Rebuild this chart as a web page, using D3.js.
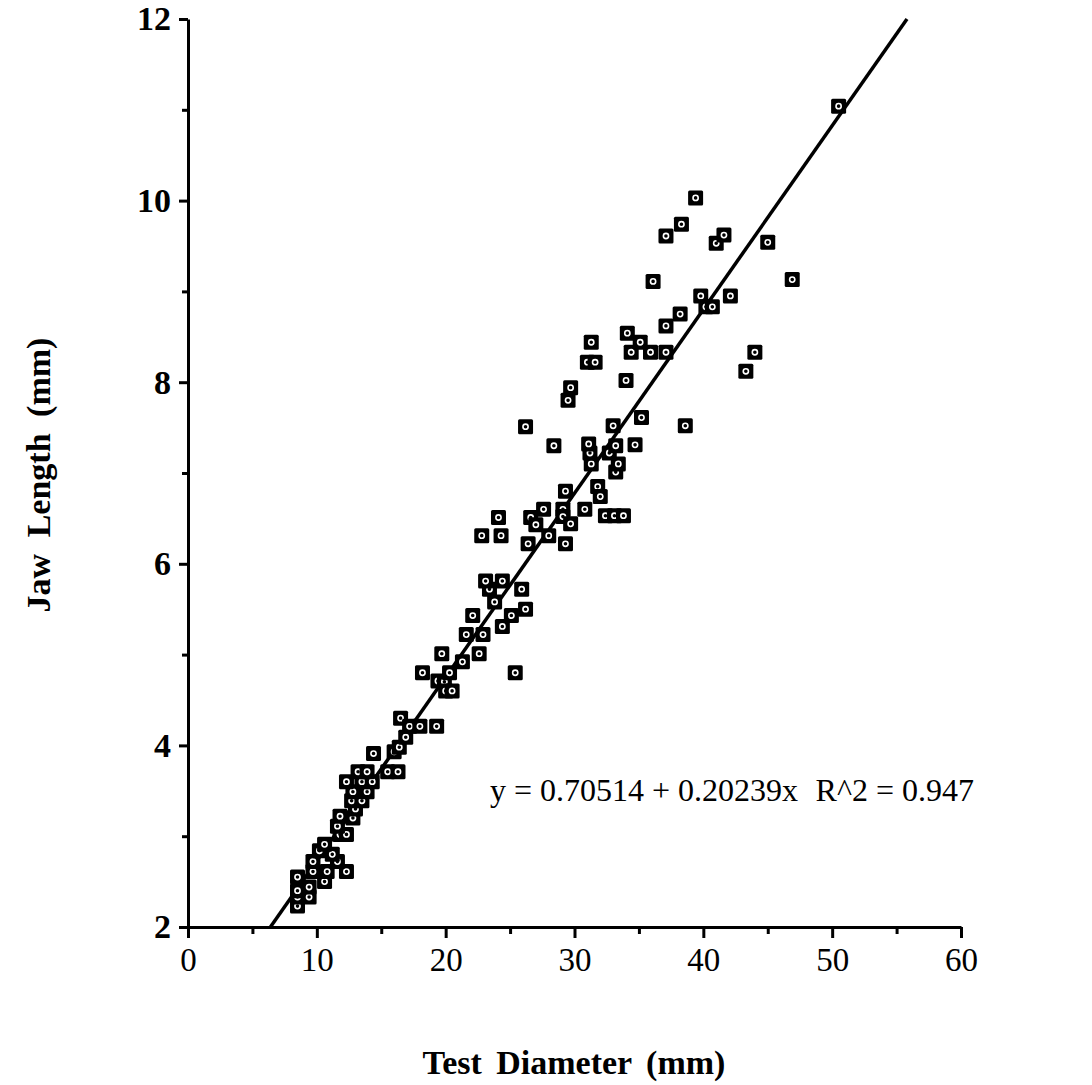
<!DOCTYPE html>
<html>
<head>
<meta charset="utf-8">
<script src="https://cdn.jsdelivr.net/npm/d3@7"></script>
<style>
  body { margin: 0; background: #fff; }
</style>
</head>
<body>
<div id="vis"></div>
<script>
// test diameter (mm)
var diameter = [
    8.5, 8.5, 9.4, 8.5, 9.4, 8.5, 10.6, 9.7, 10.8, 12.3,
    9.7, 11.6, 11.2, 10.2, 10.6, 11.8, 12.3, 11.6, 11.8, 12.8,
    13.0, 12.7, 13.5, 12.8, 13.9, 12.3, 13.5, 14.3, 13.2, 13.9,
    15.5, 16.3, 14.4, 16.0, 16.4, 16.9, 16.5, 17.2, 18.0, 19.3,
    18.2, 19.4, 19.9, 20.3, 20.0, 20.5, 19.7, 21.3, 22.6, 21.6,
    22.9, 22.1, 24.4, 25.1, 23.8, 26.2, 23.4, 25.9, 23.1, 24.4,
    25.4, 22.8, 24.3, 24.1, 26.4, 26.6, 27.0, 28.0, 29.3, 27.6,
    29.1, 29.1, 29.7, 30.8, 29.3, 31.8, 32.0, 32.4, 33.1, 33.8,
    33.2, 33.4, 31.3, 31.2, 31.1, 32.7, 33.2, 34.7, 28.4, 26.2,
    33.0, 38.6, 35.2, 29.5, 29.7, 34.0, 31.0, 31.6, 31.3, 34.4,
    35.9, 37.1, 35.1, 34.1, 37.1, 38.2, 39.8, 40.2, 40.7, 42.1,
    43.3, 44.0, 36.1, 37.1, 38.3, 39.4, 41.0, 41.6, 45.0, 46.9,
    50.5
];

// jaw length (mm)
var jaw = [
    2.23, 2.33, 2.33, 2.40, 2.44, 2.55, 2.50, 2.61, 2.61, 2.61,
    2.72, 2.72, 2.80, 2.84, 2.91, 3.02, 3.02, 3.11, 3.22, 3.20,
    3.30, 3.39, 3.39, 3.49, 3.49, 3.60, 3.60, 3.60, 3.71, 3.71,
    3.71, 3.71, 3.91, 3.93, 3.98, 4.09, 4.30, 4.21, 4.21, 4.21,
    4.80, 4.71, 4.70, 4.80, 4.60, 4.60, 5.01, 4.92, 5.01, 5.22,
    5.22, 5.43, 5.31, 5.43, 5.58, 5.50, 5.72, 5.72, 5.81, 5.81,
    4.80, 6.31, 6.31, 6.51, 6.22, 6.51, 6.43, 6.31, 6.22, 6.60,
    6.60, 6.52, 6.44, 6.60, 6.80, 6.85, 6.74, 6.53, 6.53, 6.53,
    7.01, 7.10, 7.10, 7.22, 7.32, 7.22, 7.30, 7.31, 7.30, 7.51,
    7.52, 7.52, 7.61, 7.80, 7.94, 8.02, 8.22, 8.22, 8.44, 8.33,
    8.33, 8.33, 8.44, 8.54, 8.62, 8.75, 8.95, 8.83, 8.83, 8.95,
    8.12, 8.33, 9.11, 9.61, 9.74, 10.03, 9.53, 9.62, 9.54, 9.13,
    11.04
];

var fitIntercept = 0.70514;
var fitSlope = 0.20239;
var fitLabel = "y = 0.70514 + 0.20239x";
var r2Label = "R^2 = 0.947";

var xTicks = [0, 10, 20, 30, 40, 50, 60];
var xMinorTicks = [5, 15, 25, 35, 45, 55];
var yTicks = [2, 4, 6, 8, 10, 12];
var yMinorTicks = [3, 5, 7, 9, 11];

function jawChart() {
    let width = 1092;
    let height = 1085;

    var svg = d3.select("#vis")
        .append("svg")
        .attr("width", width)
        .attr("height", height);

    var x = d3.scaleLinear().domain([0, 60]).range([188, 961]);
    var y = d3.scaleLinear().domain([2, 12]).range([927, 19]);

    var points = diameter.map(function (d, i) {
        return {x: d, y: jaw[i]};
    });

    // minor ticks first, no labels
    svg.append("g")
        .attr("transform", "translate(0,927)")
        .call(d3.axisBottom(x).tickValues(xMinorTicks).tickSize(7).tickFormat(""))
        .call(g => g.select(".domain").remove());
    svg.append("g")
        .attr("transform", "translate(188,0)")
        .call(d3.axisLeft(y).tickValues(yMinorTicks).tickSize(6).tickFormat(""))
        .call(g => g.select(".domain").remove());

    var xAxis = svg.append("g")
        .attr("class", "axis")
        .attr("transform", "translate(0,927)")
        .call(d3.axisBottom(x).tickValues(xTicks).tickSize(11).tickSizeOuter(0).tickPadding(8));
    xAxis.selectAll("text")
        .attr("font-family", "Liberation Serif, Times New Roman, serif")
        .attr("font-size", 33)
        .attr("fill", "#000")
        .attr("dy", "0.75em");

    var yAxis = svg.append("g")
        .attr("class", "axis")
        .attr("transform", "translate(188,0)")
        .call(d3.axisLeft(y).tickValues(yTicks).tickSize(9).tickSizeOuter(0).tickPadding(8));
    yAxis.selectAll("text")
        .attr("font-family", "Liberation Serif, Times New Roman, serif")
        .attr("font-weight", "bold")
        .attr("font-size", 34)
        .attr("fill", "#000");

    svg.selectAll(".domain").attr("stroke", "#000").attr("stroke-width", 3);
    svg.selectAll(".tick line").attr("stroke", "#000").attr("stroke-width", 3);

    // regression line, clipped to the axis range
    var x0 = (2 - fitIntercept) / fitSlope;
    var x1 = (12 - fitIntercept) / fitSlope;
    svg.append("line")
        .attr("x1", x(x0)).attr("y1", y(2))
        .attr("x2", x(x1)).attr("y2", y(12))
        .attr("stroke", "#000")
        .attr("stroke-width", 3.5);

    var marks = svg.selectAll("g.pt")
        .data(points)
        .enter().append("g")
        .attr("class", "pt")
        .attr("transform", function (d) {
            return "translate(" + x(d.x) + "," + y(d.y) + ")";
        });
    marks.append("rect")
        .attr("x", -7.5).attr("y", -7.5)
        .attr("width", 15).attr("height", 15)
        .attr("rx", 1.5)
        .attr("fill", "#000");
    marks.append("circle")
        .attr("r", 2.6)
        .attr("fill", "#000")
        .attr("stroke", "#fff")
        .attr("stroke-width", 1.6);

    var serif = "Liberation Serif, Times New Roman, serif";

    svg.append("text")
        .attr("x", 490).attr("y", 801)
        .attr("font-family", serif)
        .attr("font-size", 32)
        .text(fitLabel);
    svg.append("text")
        .attr("x", 974).attr("y", 801)
        .attr("text-anchor", "end")
        .attr("font-family", serif)
        .attr("font-size", 32)
        .text(r2Label);

    svg.append("text")
        .attr("x", 574).attr("y", 1074)
        .attr("text-anchor", "middle")
        .attr("font-family", serif)
        .attr("font-weight", "bold")
        .attr("font-size", 34)
        .attr("word-spacing", 6)
        .text("Test Diameter (mm)");

    svg.append("text")
        .attr("transform", "translate(50,475) rotate(-90)")
        .attr("text-anchor", "middle")
        .attr("font-family", serif)
        .attr("font-weight", "bold")
        .attr("font-size", 34)
        .attr("word-spacing", 8)
        .text("Jaw Length (mm)");
}

jawChart();
</script>
</body>
</html>
